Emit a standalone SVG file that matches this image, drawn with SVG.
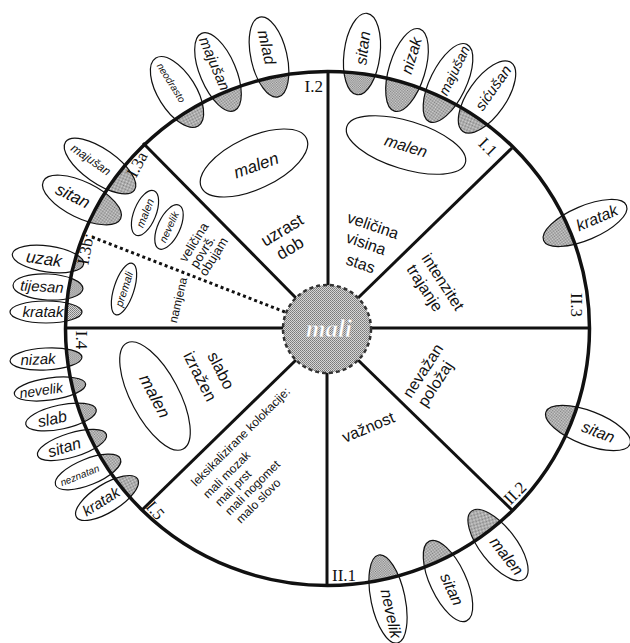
<svg xmlns="http://www.w3.org/2000/svg" width="630" height="643" viewBox="0 0 630 643">
<style>
.rim{fill:none;stroke:#111;stroke-width:3.5}
.spoke{stroke:#111;stroke-width:3;fill:none}
.dot{stroke:#111;stroke-width:3;stroke-dasharray:3 3;fill:none}
.pet{fill:none;stroke:#111;stroke-width:1.2}
.petg{fill:url(#grey);stroke:none}
.in{fill:#fff;stroke:#111;stroke-width:1.2}
.it{font-family:"Liberation Sans",Arial,sans-serif;font-style:italic;fill:#111;text-anchor:middle}
.lb{font-family:"Liberation Sans",Arial,sans-serif;fill:#111}
.mid{text-anchor:middle}
.rl{font-family:"Liberation Serif","Times New Roman",serif;fill:#111;font-size:17px}
</style>
<defs>
<pattern id="grey" width="2" height="2" patternUnits="userSpaceOnUse">
<rect width="2" height="2" fill="#d6d6d6"/>
<rect width="1" height="1" fill="#7a7a7a"/>
<rect x="1" y="1" width="1" height="1" fill="#8a8a8a"/>
</pattern>
<clipPath id="inner" clipPathUnits="userSpaceOnUse">
<ellipse cx="327.5" cy="328.5" rx="262" ry="257"/>
</clipPath>
</defs>
<rect width="630" height="643" fill="#fff"/>

<!-- petals -->
<g id="petals">
<g id="p-mlad"><g clip-path="url(#inner)"><ellipse class="petg" transform="translate(269,57) rotate(77)" rx="41" ry="18"/></g><ellipse class="pet" transform="translate(269,57) rotate(77)" rx="41" ry="18"/><text class="it" font-size="16" transform="translate(269,57) rotate(77)" x="-10" y="5.5">mlad</text></g>
<g id="p-majusan1"><g clip-path="url(#inner)"><ellipse class="petg" transform="translate(218,72) rotate(67)" rx="42" ry="18"/></g><ellipse class="pet" transform="translate(218,72) rotate(67)" rx="42" ry="18"/><text class="it" font-size="15" transform="translate(218,72) rotate(67)" x="-9" y="5">majušan</text></g>
<g id="p-neodrasto"><g clip-path="url(#inner)"><ellipse class="petg" transform="translate(177,92) rotate(58)" rx="40" ry="19"/></g><ellipse class="pet" transform="translate(177,92) rotate(58)" rx="40" ry="19"/><text class="it" font-size="10" transform="translate(177,92) rotate(58)" x="-11" y="3.5">neodrasto</text></g>
<g id="p-majusan2"><g clip-path="url(#inner)"><ellipse class="petg" transform="translate(100,166) rotate(35)" rx="42" ry="17"/></g><ellipse class="pet" transform="translate(100,166) rotate(35)" rx="42" ry="17"/><text class="it" font-size="12" transform="translate(100,166) rotate(35)" x="-11" y="4">majušan</text></g>
<g id="p-sitan1"><g clip-path="url(#inner)"><ellipse class="petg" transform="translate(82,200) rotate(26)" rx="43" ry="18"/></g><ellipse class="pet" transform="translate(82,200) rotate(26)" rx="43" ry="18"/><text class="it" font-size="17" transform="translate(82,200) rotate(26)" x="-10" y="6">sitan</text></g>

<g id="p-uzak"><g clip-path="url(#inner)"><ellipse class="petg" transform="translate(48,259) rotate(8)" rx="36" ry="13"/></g><ellipse class="pet" transform="translate(48,259) rotate(8)" rx="36" ry="13"/><text class="it" font-size="17" transform="translate(48,259) rotate(8)" x="-4" y="6">uzak</text></g>
<g id="p-tijesan"><g clip-path="url(#inner)"><ellipse class="petg" transform="translate(48,287) rotate(3)" rx="35" ry="13"/></g><ellipse class="pet" transform="translate(48,287) rotate(3)" rx="35" ry="13"/><text class="it" font-size="15" transform="translate(48,287) rotate(3)" x="-6" y="5">tijesan</text></g>
<g id="p-kratak1"><g clip-path="url(#inner)"><ellipse class="petg" transform="translate(46,312)" rx="36" ry="11"/></g><ellipse class="pet" transform="translate(46,312)" rx="36" ry="11"/><text class="it" font-size="15" transform="translate(46,312)" x="-3" y="5">kratak</text></g>
<g id="p-nizak"><g clip-path="url(#inner)"><ellipse class="petg" transform="translate(46,359) rotate(-3)" rx="36" ry="11"/></g><ellipse class="pet" transform="translate(46,359) rotate(-3)" rx="36" ry="11"/><text class="it" font-size="15" transform="translate(46,359) rotate(-3)" x="-8" y="5">nizak</text></g>
<g id="p-nevelik1"><g clip-path="url(#inner)"><ellipse class="petg" transform="translate(50,389) rotate(-8)" rx="36" ry="11"/></g><ellipse class="pet" transform="translate(50,389) rotate(-8)" rx="36" ry="11"/><text class="it" font-size="14" transform="translate(50,389) rotate(-8)" x="-9" y="5">nevelik</text></g>
<g id="p-slab"><g clip-path="url(#inner)"><ellipse class="petg" transform="translate(61,417) rotate(-12)" rx="36" ry="12"/></g><ellipse class="pet" transform="translate(61,417) rotate(-12)" rx="36" ry="12"/><text class="it" font-size="16" transform="translate(61,417) rotate(-12)" x="-9" y="5.5">slab</text></g>
<g id="p-sitan2"><g clip-path="url(#inner)"><ellipse class="petg" transform="translate(72,445) rotate(-17)" rx="36" ry="12"/></g><ellipse class="pet" transform="translate(72,445) rotate(-17)" rx="36" ry="12"/><text class="it" font-size="16" transform="translate(72,445) rotate(-17)" x="-8" y="5.5">sitan</text></g>
<g id="p-neznatan"><g clip-path="url(#inner)"><ellipse class="petg" transform="translate(88,472) rotate(-22)" rx="35" ry="13"/></g><ellipse class="pet" transform="translate(88,472) rotate(-22)" rx="35" ry="13"/><text class="it" font-size="10" transform="translate(88,472) rotate(-22)" x="-9" y="3.5">neznatan</text></g>
<g id="p-kratak2"><g clip-path="url(#inner)"><ellipse class="petg" transform="translate(107,498) rotate(-32)" rx="36" ry="14"/></g><ellipse class="pet" transform="translate(107,498) rotate(-32)" rx="36" ry="14"/><text class="it" font-size="15" transform="translate(107,498) rotate(-32)" x="-7" y="5">kratak</text></g>

<g id="p-sitan3"><g clip-path="url(#inner)"><ellipse class="petg" transform="translate(362,54) rotate(-83)" rx="41" ry="18"/></g><ellipse class="pet" transform="translate(362,54) rotate(-83)" rx="41" ry="18"/><text class="it" font-size="16" transform="translate(362,54) rotate(-83)" x="6" y="5.5">sitan</text></g>
<g id="p-nizak2"><g clip-path="url(#inner)"><ellipse class="petg" transform="translate(407,70) rotate(-73)" rx="43" ry="18"/></g><ellipse class="pet" transform="translate(407,70) rotate(-73)" rx="43" ry="18"/><text class="it" font-size="16" transform="translate(407,70) rotate(-73)" x="15" y="5.5">nizak</text></g>
<g id="p-majusan3"><g clip-path="url(#inner)"><ellipse class="petg" transform="translate(448,83) rotate(-64)" rx="43" ry="18"/></g><ellipse class="pet" transform="translate(448,83) rotate(-64)" rx="43" ry="18"/><text class="it" font-size="14" transform="translate(448,83) rotate(-64)" x="14" y="5">majušan</text></g>
<g id="p-sicusan"><g clip-path="url(#inner)"><ellipse class="petg" transform="translate(487,97) rotate(-55)" rx="42" ry="19"/></g><ellipse class="pet" transform="translate(487,97) rotate(-55)" rx="42" ry="19"/><text class="it" font-size="15" transform="translate(487,97) rotate(-55)" x="11" y="5">sićušan</text></g>

<g id="p-kratak3"><g clip-path="url(#inner)"><ellipse class="petg" transform="translate(585,223) rotate(-23)" rx="45" ry="17"/></g><ellipse class="pet" transform="translate(585,223) rotate(-23)" rx="45" ry="17"/><text class="it" font-size="16" transform="translate(585,223) rotate(-23)" x="13" y="5.5">kratak</text></g>
<g id="p-sitan4"><g clip-path="url(#inner)"><ellipse class="petg" transform="translate(588,428) rotate(21)" rx="45" ry="17"/></g><ellipse class="pet" transform="translate(588,428) rotate(21)" rx="45" ry="17"/><text class="it" font-size="16" transform="translate(588,428) rotate(21)" x="11" y="5.5">sitan</text></g>
<g id="p-malen"><g clip-path="url(#inner)"><ellipse class="petg" transform="translate(498,545) rotate(52)" rx="43" ry="18"/></g><ellipse class="pet" transform="translate(498,545) rotate(52)" rx="43" ry="18"/><text class="it" font-size="16" transform="translate(498,545) rotate(52)" x="14" y="5.5">malen</text></g>
<g id="p-sitan5"><g clip-path="url(#inner)"><ellipse class="petg" transform="translate(448,581) rotate(65)" rx="44" ry="18"/></g><ellipse class="pet" transform="translate(448,581) rotate(65)" rx="44" ry="18"/><text class="it" font-size="16" transform="translate(448,581) rotate(65)" x="9" y="5.5">sitan</text></g>
<g id="p-nevelik2"><g clip-path="url(#inner)"><ellipse class="petg" transform="translate(388,599) rotate(78)" rx="45" ry="17"/></g><ellipse class="pet" transform="translate(388,599) rotate(78)" rx="45" ry="17"/><text class="it" font-size="16" transform="translate(388,599) rotate(78)" x="15" y="5.5">nevelik</text></g>
</g>

<!-- wheel rim -->
<g id="wheel"><ellipse class="rim" cx="327.5" cy="328.5" rx="262" ry="257"/></g>

<!-- connectors: spokes -->
<g id="spokes">
<line class="spoke" x1="328" y1="72" x2="328" y2="286"/>
<line class="spoke" x1="327" y1="372" x2="327" y2="585"/>
<line class="spoke" x1="66" y1="328" x2="284" y2="328"/>
<line class="spoke" x1="370" y1="328" x2="589" y2="328"/>
<line class="spoke" x1="143" y1="143" x2="296" y2="298"/>
<line class="spoke" x1="512" y1="148" x2="358" y2="298"/>
<line class="spoke" x1="142" y1="510" x2="296" y2="360"/>
<line class="spoke" x1="512" y1="510" x2="358" y2="360"/>
<line class="dot" x1="92" y1="237" x2="285" y2="312"/>
</g>

<!-- centre node -->
<g id="centre">
<circle cx="327" cy="329" r="44" fill="url(#grey)" stroke="#333" stroke-width="2.5" stroke-dasharray="4 3"/>
<text x="329" y="337" text-anchor="middle" font-family="Liberation Serif,'Times New Roman',serif" font-style="italic" font-weight="bold" font-size="25" fill="#fff" stroke="#999" stroke-width="0.4">mali</text>
</g>

<!-- inner ellipses -->
<g id="i-malen1"><ellipse class="in" transform="translate(254,163) rotate(-25)" rx="58" ry="26"/><text class="it" font-size="17" transform="translate(256,165) rotate(-20)" y="6">malen</text></g>
<g id="i-malen2"><ellipse class="in" transform="translate(406,145) rotate(17)" rx="62" ry="24"/><text class="it" font-size="16" transform="translate(406,146) rotate(17)" y="5.5">malen</text></g>
<g id="i-malen3"><ellipse class="in" transform="translate(145,213) rotate(-68)" rx="24" ry="11"/><text class="it" font-size="11" transform="translate(145,213) rotate(-68)" y="4">malen</text></g>
<g id="i-nevelik"><ellipse class="in" transform="translate(169,227) rotate(-65)" rx="24" ry="11"/><text class="it" font-size="10.5" transform="translate(169,227) rotate(-65)" y="3.7">nevelik</text></g>
<g id="i-premali"><ellipse class="in" transform="translate(124,289) rotate(-72)" rx="27" ry="10"/><text class="it" font-size="11" transform="translate(124,289) rotate(-72)" y="4">premali</text></g>
<g id="i-malen4"><ellipse class="in" transform="translate(155,396) rotate(62)" rx="60" ry="24"/><text class="it" font-size="17" transform="translate(155,396) rotate(62)" y="6">malen</text></g>

<!-- sector labels -->
<g id="s-velicina">
<text class="lb" font-size="16" transform="translate(346,222) rotate(19)">veličina</text>
<text class="lb" font-size="16" transform="translate(345,242) rotate(19)">visina</text>
<text class="lb" font-size="16" transform="translate(345,264) rotate(19)">stas</text>
</g>
<g id="s-intenzitet">
<text class="lb" font-size="16" transform="translate(421,258) rotate(57)">intenzitet</text>
<text class="lb" font-size="16" transform="translate(406,269) rotate(57)">trajanje</text>
</g>
<g id="s-nevazan">
<text class="lb" font-size="16" transform="translate(411,399) rotate(-57)">nevažan</text>
<text class="lb" font-size="16" transform="translate(426,408) rotate(-57)">položaj</text>
</g>
<g id="s-vaznost"><text class="lb" font-size="16" transform="translate(345,443) rotate(-23)">važnost</text></g>
<g id="s-leks">
<text class="lb" font-size="12" transform="translate(196,487) rotate(-45)">leksikalizirane kolokacije:</text>
<text class="lb" font-size="12" transform="translate(208,499) rotate(-45)">mali mozak</text>
<text class="lb" font-size="12" transform="translate(220,507) rotate(-45)">mali prst</text>
<text class="lb" font-size="12" transform="translate(230,516) rotate(-45)">mali nogomet</text>
<text class="lb" font-size="12" transform="translate(241,524) rotate(-45)">malo slovo</text>
</g>
<g id="s-slabo">
<text class="lb mid" font-size="16.5" transform="translate(216,373) rotate(63)">slabo</text>
<text class="lb mid" font-size="16.5" transform="translate(195,379) rotate(63)">izražen</text>
</g>
<g id="s-uzrast">
<text class="lb mid" font-size="17" transform="translate(285,235) rotate(-31)">uzrast</text>
<text class="lb mid" font-size="17" transform="translate(293,253) rotate(-31)">dob</text>
</g>
<g id="s-povrs">
<text class="lb" font-size="13" transform="translate(186,263) rotate(-58)">veličina</text>
<text class="lb" font-size="13" transform="translate(197,269) rotate(-58)">površ.</text>
<text class="lb" font-size="13" transform="translate(206,277) rotate(-58)">obujam</text>
</g>
<g id="s-namjena"><text class="lb mid" font-size="12" transform="translate(182,301) rotate(-77)">namjena</text></g>

<!-- rim labels -->
<g id="rim-labels">
<text class="rl" x="323" y="92" text-anchor="end" font-size="18">I.2</text>
<text class="rl" x="332" y="581">II.1</text>
<text class="rl" text-anchor="middle" transform="translate(571,305) rotate(90)">II.3</text>
<text class="rl" text-anchor="middle" transform="translate(76,340) rotate(90)">I.4</text>
<text class="rl" text-anchor="middle" transform="translate(519,497) rotate(-45)">II.2</text>
<text class="rl" text-anchor="middle" transform="translate(151,514) rotate(50)">I.5</text>
<text class="rl" text-anchor="middle" transform="translate(142,167) rotate(-62)">I.3a</text>
<text class="rl" text-anchor="middle" transform="translate(91,250) rotate(-80)">I.3b:</text>
<text class="rl" text-anchor="middle" transform="translate(484,151) rotate(45)">I.1</text>
</g>
</svg>
